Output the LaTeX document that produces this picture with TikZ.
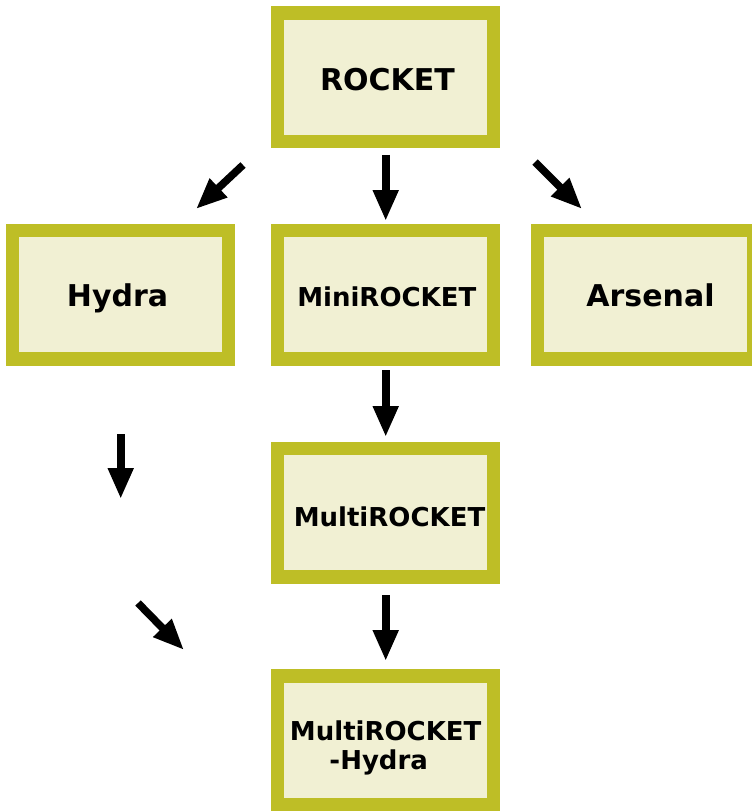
\documentclass[tikz,border=0pt]{standalone}
\usepackage{fontspec}
\setmainfont{DejaVu Sans}
\usetikzlibrary{arrows.meta}
\definecolor{boxedge}{RGB}{190,190,38}
\definecolor{boxfill}{RGB}{241,240,211}
\begin{document}
\begin{tikzpicture}[x=1pt,y=-1pt,
  algbox/.style={draw=boxedge,fill=boxfill,line width=13.5pt,
    minimum width=216pt,minimum height=128.5pt,inner sep=0pt,outer sep=0pt},
  biglbl/.style={anchor=base,inner sep=0pt,font=\fontsize{30}{30}\selectfont\bfseries},
  smalllbl/.style={anchor=base,inner sep=0pt,font=\fontsize{26}{26}\selectfont\bfseries},
  arr/.style={line width=7.6pt,-{Triangle[width=24pt,length=31pt]}}]
\useasboundingbox (0,0) rectangle (752,811);
\begin{scope}
\clip (0,0) rectangle (752,811);
% boxes
\node[algbox] (rocket) at (385.7,77.2) {};
\node[algbox] (hydra)  at (120.3,294.5) {};
\node[algbox] (mini)   at (385.7,294.5) {};
\node[algbox] (arsenal) at (645.7,294.5) {};
\node[algbox] (multi)  at (385.7,512.5) {};
\node[algbox] (mrh)    at (385.7,740.3) {};
\end{scope}
% labels
\node[biglbl] (t-rocket) at (387.5,90) {ROCKET};
\node[biglbl] (t-hydra) at (117.5,306) {Hydra};
\node[smalllbl] (t-mini) at (386.8,306.5) {MiniROCKET};
\node[biglbl] (t-arsenal) at (650.5,306.7) {Arsenal};
\node[smalllbl] (t-multi) at (389.5,526) {MultiROCKET};
\node[smalllbl] (t-mrh1) at (385.7,740) {MultiROCKET};
\node[smalllbl] (t-mrh2) at (378.7,769.5) {-Hydra};
% free arrow ends
\coordinate (hy-a) at (243,165);
\coordinate (hy-b) at (196,209);
\coordinate (ar-a) at (535,162);
\coordinate (ar-b) at (582,209);
\coordinate (hd-a) at (120.7,434);
\coordinate (hd-b) at (120.7,499);
\coordinate (dg-a) at (138,603);
\coordinate (dg-b) at (184,650);
% arrows
\draw[arr] (hy-a) -- (hy-b);
\draw[arr] (ar-a) -- (ar-b);
\draw[arr,shorten <=13.5pt,shorten >=9.25pt] (rocket.south) -- (mini.north);
\draw[arr,shorten <=11.25pt,shorten >=11.25pt] (mini.south) -- (multi.north);
\draw[arr,shorten <=18.25pt,shorten >=15pt] (multi.south) -- (mrh.north);
\draw[arr] (hd-a) -- (hd-b);
\draw[arr] (dg-a) -- (dg-b);
\end{tikzpicture}
\end{document}
